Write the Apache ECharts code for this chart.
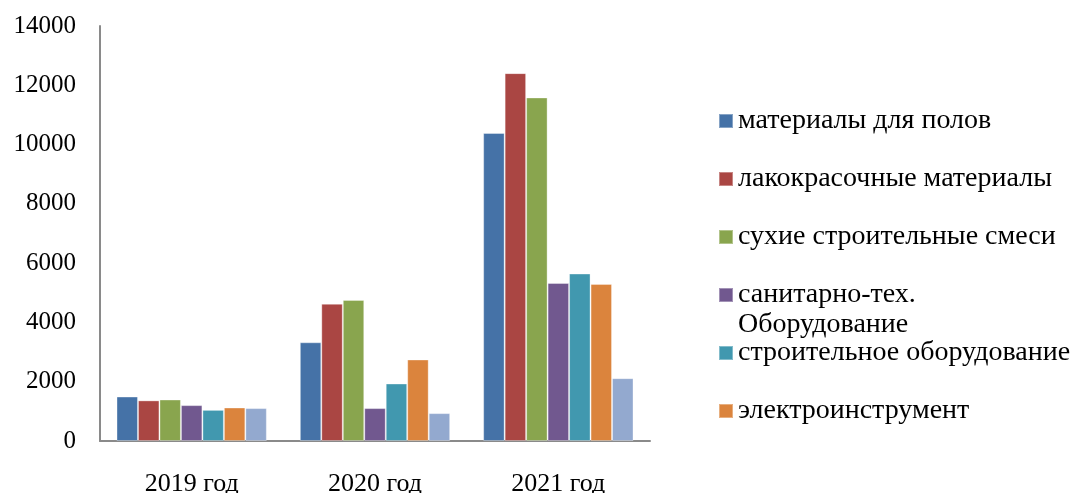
<!DOCTYPE html>
<html>
<head>
<meta charset="utf-8">
<script src="https://cdn.jsdelivr.net/npm/echarts@6/dist/echarts.min.js"></script>
<style>
  html, body { margin: 0; padding: 0; background: #ffffff; }
  #chart { width: 1077px; height: 493px; }
</style>
</head>
<body>
<div id="chart"></div>
<script>
// Years on the category axis
const years = ['2019 год', '2020 год', '2021 год'];

// Sales by product group
const floorMaterials   = [1500, 3330, 10390];
const paints           = [1370, 4630, 12410];
const dryMixes         = [1400, 4760, 11590];
const sanitary         = [1210, 1110, 5330];
const buildEquipment   = [1050, 1940, 5650];
const powerTools       = [1130, 2750, 5300];
const other            = [1110, 940, 2120];

const seriesNames = [
  'материалы для полов',
  'лакокрасочные материалы',
  'сухие строительные смеси',
  'санитарно-тех. Оборудование',
  'строительное оборудование',
  'электроинструмент',
  'прочее'
];
const seriesValues = [floorMaterials, paints, dryMixes, sanitary, buildEquipment, powerTools, other];
const colors = ['#4572A7', '#AA4643', '#89A54E', '#71588F', '#4198AF', '#DB843D', '#93A9CF'];

const yTicks = { min: 0, max: 14000, interval: 2000 };

const FONT = '"Liberation Serif", "Times New Roman", serif';
const LEGEND_FS = 28;
const LH = 30;

// One legend block per entry so each can sit at its own row
const legendCenters = [121, 179, 237, 295, 353, 411];
const legends = legendCenters.map((c, i) => {
  const twoLine = i === 3;
  return {
    data: [seriesNames[i]],
    left: 718,
    top: twoLine ? c - LH * 1.5 : c - LH / 2,
    padding: 0,
    itemWidth: 14,
    itemHeight: 14,
    itemGap: 0,
    icon: 'rect',
    selectedMode: false,
    textStyle: { fontFamily: FONT, fontSize: LEGEND_FS, color: '#000', lineHeight: LH },
    formatter: twoLine ? () => '\nсанитарно-тех.\nОборудование' : undefined
  };
});

const chart = echarts.init(document.getElementById('chart'));
chart.setOption({
  animation: false,
  color: colors,
  legend: legends,
  grid: {
    left: 100, right: 427, top: 26, bottom: 52,
    containLabel: false,
    outerBoundsMode: 'none'
  },
  xAxis: {
    type: 'category',
    data: years,
    axisLine: { lineStyle: { color: '#8a8a8a', width: 2 } },
    axisTick: { show: false },
    axisLabel: { fontFamily: FONT, fontSize: 26, color: '#000', margin: 30 }
  },
  yAxis: {
    type: 'value',
    min: yTicks.min,
    max: yTicks.max,
    interval: yTicks.interval,
    axisLine: { show: true, lineStyle: { color: '#8a8a8a', width: 2 } },
    axisTick: { show: false },
    splitLine: { show: false },
    axisLabel: {
      fontFamily: FONT, fontSize: 25, color: '#000', margin: 24,
      formatter: v => String(v)
    }
  },
  series: seriesNames.map((name, i) => ({
    name,
    type: 'bar',
    data: seriesValues[i],
    barGap: '0%',
    barCategoryGap: '18%',
    itemStyle: { color: colors[i], borderColor: 'rgba(255,255,255,0.35)', borderWidth: 1 }
  }))
});
</script>
</body>
</html>
